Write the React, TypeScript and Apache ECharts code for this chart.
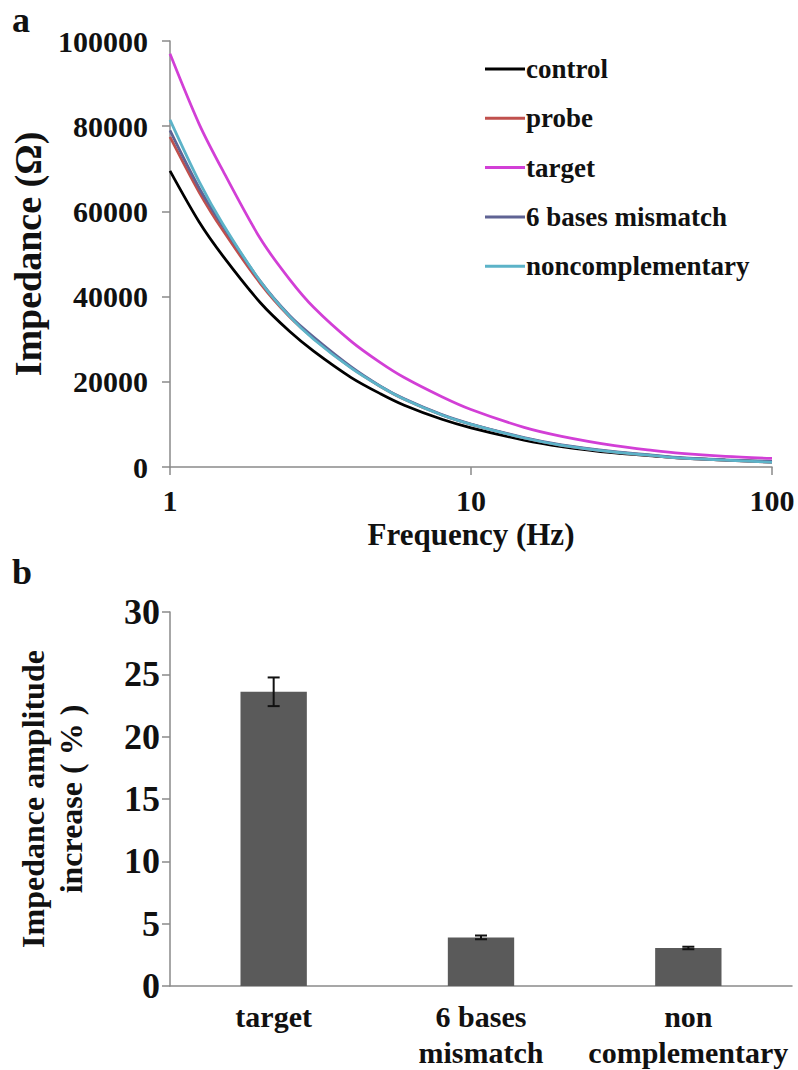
import React, { useEffect, useRef } from "react";
import * as echarts from "echarts";

// ---- Panel a: impedance spectra ----
const freqHz = [1, 1.25, 1.5, 2, 2.5, 3, 4, 5, 6, 8, 10, 15, 20, 30, 40, 50, 70, 100];
const seriesNames = ["control", "probe", "target", "6 bases mismatch", "noncomplementary"];
const controlZ = [69500, 57500, 49500, 38500, 31800, 27200, 21000, 17200, 14500, 11200, 9200, 6300, 4800, 3300, 2600, 2100, 1600, 1200];
const probeZ = [77500, 64500, 55500, 43000, 35200, 30200, 23300, 18900, 15900, 12200, 10000, 6800, 5100, 3500, 2700, 2100, 1600, 1100];
const targetZ = [97000, 80500, 69500, 53500, 44000, 37500, 29500, 24500, 21000, 16500, 13500, 9300, 7200, 5000, 3900, 3200, 2500, 2000];
const mismatchZ = [79000, 65500, 56500, 43500, 35500, 30500, 23500, 19000, 16000, 12300, 10100, 6900, 5200, 3600, 2800, 2200, 1700, 1300];
const noncompZ = [81500, 67000, 57000, 43500, 35300, 30000, 23200, 18900, 15900, 12200, 10000, 6800, 5100, 3500, 2700, 2100, 1600, 1100];
const lineColors = ["#000000", "#c0504d", "#d23fd6", "#5f6394", "#5cb3c8"];

// ---- Panel b: amplitude increase ----
const barCategories = ["target", "6 bases\nmismatch", "non\ncomplementary"];
const barValues = [23.6, 3.9, 3.05];
const barErrors = [1.15, 0.15, 0.1];

const FONT = "'Liberation Serif', 'Times New Roman', Times, 'DejaVu Serif', serif";

export default function App() {
  const ref = useRef<HTMLDivElement>(null);
  useEffect(() => {
    if (!ref.current) return;
    const chart = echarts.init(ref.current, null, { renderer: "svg" });
    const seriesZ = [controlZ, probeZ, targetZ, mismatchZ, noncompZ];
    const lineSeries = seriesNames.map((name, i) => ({
      name,
      type: "line",
      xAxisIndex: 0,
      yAxisIndex: 0,
      data: freqHz.map((f, j) => [f, seriesZ[i][j]]),
      smooth: 0.3,
      showSymbol: false,
      lineStyle: { color: lineColors[i], width: 2.75 },
      itemStyle: { color: lineColors[i] },
      z: 2 + i,
    }));
    const axisLineStyle = { lineStyle: { color: "#8a8a8a", width: 1.5 } };
    const tickStyle = { show: true, inside: false, length: 8, lineStyle: { color: "#8a8a8a", width: 1.5 } };
    const txt = (size: number, extra: any = {}) => ({
      fontFamily: FONT,
      fontWeight: "bold",
      fontSize: size,
      color: "#111",
      ...extra,
    });
    chart.setOption({
      animation: false,
      backgroundColor: "#ffffff",
      textStyle: { fontFamily: FONT },
      legend: {
        data: seriesNames,
        orient: "vertical",
        left: 480,
        top: 49,
        icon: "rect",
        itemWidth: 40,
        itemHeight: 3,
        itemGap: 19.3,
        textStyle: txt(27, { lineHeight: 30, padding: [0, 0, 0, -4] }),
        selectedMode: false,
      },
      graphic: [
        { type: "text", left: 12, top: 2, style: { text: "a", fontFamily: FONT, fontWeight: "bold", fontSize: 36, fill: "#111" } },
        { type: "text", left: 12, top: 554, style: { text: "b", fontFamily: FONT, fontWeight: "bold", fontSize: 36, fill: "#111" } },
      ],
      grid: [
        { left: 170, top: 41, width: 602, height: 426 },
        { left: 170, top: 612, width: 622, height: 375 },
      ],
      xAxis: [
        {
          type: "log",
          gridIndex: 0,
          logBase: 10,
          min: 1,
          max: 100,
          name: "Frequency (Hz)",
          nameLocation: "middle",
          nameGap: 52,
          nameTextStyle: txt(31),
          axisLine: axisLineStyle,
          axisTick: tickStyle,
          minorTick: { show: false },
          splitLine: { show: false },
          axisLabel: txt(30, { margin: 18 }),
        },
        {
          type: "category",
          gridIndex: 1,
          data: barCategories,
          axisLine: axisLineStyle,
          axisTick: { show: false },
          axisLabel: txt(30, { margin: 12, lineHeight: 36, interval: 0 }),
        },
      ],
      yAxis: [
        {
          type: "value",
          gridIndex: 0,
          min: 0,
          max: 100000,
          interval: 20000,
          name: "Impedance (Ω)",
          nameLocation: "middle",
          nameGap: 122,
          nameTextStyle: txt(38),
          axisLine: { show: true, ...axisLineStyle },
          axisTick: tickStyle,
          splitLine: { show: false },
          axisLabel: txt(30, { margin: 22, formatter: (v: number) => String(v) }),
        },
        {
          type: "value",
          gridIndex: 1,
          min: 0,
          max: 30,
          interval: 5,
          name: "Impedance amplitude\nincrease ( % )",
          nameLocation: "middle",
          nameGap: 80,
          nameTextStyle: txt(32, { lineHeight: 38 }),
          axisLine: { show: true, ...axisLineStyle },
          axisTick: tickStyle,
          splitLine: { show: false },
          axisLabel: txt(36, { margin: 10 }),
        },
      ],
      series: [
        ...lineSeries,
        {
          type: "bar",
          xAxisIndex: 1,
          yAxisIndex: 1,
          data: barValues,
          barWidth: "32%",
          itemStyle: { color: "#5a5a5a" },
          z: 2,
        },
        {
          type: "custom",
          xAxisIndex: 1,
          yAxisIndex: 1,
          data: barValues.map((v, i) => [i, v - barErrors[i], v + barErrors[i]]),
          z: 5,
          renderItem: (params: any, api: any) => {
            const idx = api.value(0);
            const lo = api.coord([idx, api.value(1)]);
            const hi = api.coord([idx, api.value(2)]);
            const w = 6;
            const st = { stroke: "#111", lineWidth: 2 };
            return {
              type: "group",
              children: [
                { type: "line", shape: { x1: hi[0], y1: hi[1], x2: lo[0], y2: lo[1] }, style: st },
                { type: "line", shape: { x1: hi[0] - w, y1: hi[1], x2: hi[0] + w, y2: hi[1] }, style: st },
                { type: "line", shape: { x1: lo[0] - w, y1: lo[1], x2: lo[0] + w, y2: lo[1] }, style: st },
              ],
            };
          },
        },
      ],
    });
    return () => chart.dispose();
  }, []);
  return <div ref={ref} style={{ position: "absolute", left: 0, top: 0, width: 798, height: 1070 }} />;
}
